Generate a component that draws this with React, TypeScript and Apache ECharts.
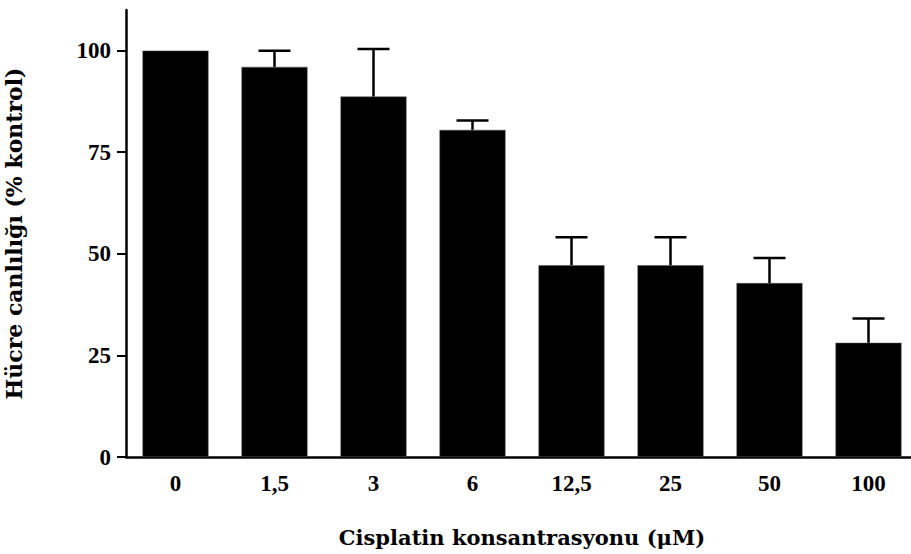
import React, { useEffect, useRef } from "react";
import * as echarts from "echarts";

const categories = ["0", "1,5", "3", "6", "12,5", "25", "50", "100"];
const meanValues = [100, 96.0, 88.7, 80.5, 47.2, 47.2, 42.8, 28.1];
const sdValues = [0, 4.0, 11.7, 2.3, 6.9, 6.9, 6.2, 6.0];
const yTicks = [0, 25, 50, 75, 100];

const xTitle = "Cisplatin konsantrasyonu (μM)";
const yTitle = "Hücre canlılığı (% kontrol)";

export default function App() {
  const ref = useRef<HTMLDivElement>(null);
  useEffect(() => {
    if (!ref.current) return;
    const chart = echarts.init(ref.current, null, { renderer: "svg" });
    const errData = categories.map((c, i) => [i, meanValues[i], meanValues[i] + sdValues[i]]);
    chart.setOption({
      animation: false,
      backgroundColor: "#ffffff",
      grid: { left: 126, right: -7, top: 10, bottom: 97, containLabel: false, outerBoundsMode: "none" },
      xAxis: {
        type: "category",
        data: categories,
        boundaryGap: true,
        name: xTitle,
        nameLocation: "middle",
        nameGap: 70,
        nameTextStyle: { fontFamily: "DejaVu Serif", fontWeight: "bold", fontSize: 21, color: "#000" },
        axisLine: { lineStyle: { color: "#000", width: 2.5 } },
        axisTick: { alignWithLabel: true, length: 9, lineStyle: { color: "#000", width: 2 } },
        axisLabel: { fontFamily: "Liberation Serif", fontWeight: "bold", fontSize: 23, color: "#000", margin: 15 },
        splitLine: { show: false },
      },
      yAxis: {
        type: "value",
        min: 0,
        max: 110,
        interval: 25,
        name: yTitle,
        nameLocation: "middle",
        nameGap: 101,
        nameRotate: 90,
        nameTextStyle: { fontFamily: "DejaVu Serif", fontWeight: "bold", fontSize: 22, color: "#000" },
        axisLine: { show: true, lineStyle: { color: "#000", width: 2.5 } },
        axisTick: { show: true, length: 9, customValues: yTicks, lineStyle: { color: "#000", width: 2 } },
        axisLabel: {
          customValues: yTicks,
          fontFamily: "Liberation Serif",
          fontWeight: "bold",
          fontSize: 23,
          color: "#000",
          margin: 15,
        },
        splitLine: { show: false },
      },
      series: [
        {
          type: "bar",
          data: meanValues,
          barWidth: 66,
          itemStyle: { color: "#000", borderColor: "#555", borderWidth: 0.5 },
          z: 2,
        },
        {
          type: "custom",
          data: errData,
          z: 3,
          renderItem: (params: any, api: any) => {
            const idx = api.value(0);
            const lo = api.coord([idx, api.value(1)]);
            const hi = api.coord([idx, api.value(2)]);
            if (api.value(2) <= api.value(1)) return { type: "group", children: [] };
            const half = 16;
            const style = { stroke: "#000", lineWidth: 2.5 };
            return {
              type: "group",
              children: [
                { type: "line", shape: { x1: lo[0], y1: lo[1], x2: hi[0], y2: hi[1] }, style },
                { type: "line", shape: { x1: hi[0] - half, y1: hi[1], x2: hi[0] + half, y2: hi[1] }, style },
              ],
            };
          },
        },
      ],
    });
    return () => chart.dispose();
  }, []);
  return <div ref={ref} style={{ width: 911, height: 554, position: "absolute", left: 0, top: 0 }} />;
}
